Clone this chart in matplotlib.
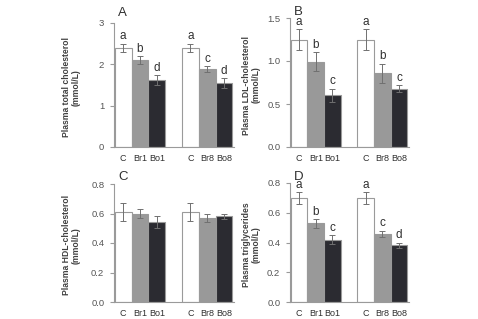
import numpy as np
import matplotlib.pyplot as plt

plt.rcParams['font.family'] = ['Liberation Sans', 'DejaVu Sans']

# Dados
labels_x = ['C', 'Br1', 'Bo1', 'C', 'Br8', 'Bo8']
pos = [0, 1, 2, 4, 5, 6]

total_mean = [2.40, 2.10, 1.62, 2.40, 1.88, 1.55]
total_err = [0.10, 0.10, 0.12, 0.10, 0.07, 0.12]
total_let = ['a', 'b', 'd', 'a', 'c', 'd']

ldl_mean = [1.25, 0.99, 0.60, 1.25, 0.86, 0.68]
ldl_err = [0.12, 0.11, 0.08, 0.12, 0.11, 0.04]
ldl_let = ['a', 'b', 'c', 'a', 'b', 'c']

hdl_mean = [0.61, 0.60, 0.54, 0.61, 0.57, 0.58]
hdl_err = [0.06, 0.03, 0.04, 0.06, 0.03, 0.02]
hdl_let = None

tg_mean = [0.70, 0.53, 0.42, 0.70, 0.46, 0.38]
tg_err = [0.04, 0.03, 0.03, 0.04, 0.02, 0.02]
tg_let = ['a', 'b', 'c', 'a', 'c', 'd']

cores = ['white', '#999999', '#2b2b31', 'white', '#999999', '#2b2b31']
cinza = '#9a9a9a'
texto = '#555555'

W, H = 478, 319
fig = plt.figure(figsize=(W / 100, H / 100), dpi=100)


def painel(rect, media, erro, letras, ylim, yticks, fmt, ylabel, letra, lx, ly):
    l, r, t, b = rect
    ax = fig.add_axes([l / W, (H - b) / H, (r - l) / W, (b - t) / H])
    ax.bar(pos, media, width=1.0, color=cores, edgecolor=cinza, linewidth=0.8, zorder=2)
    ax.errorbar(pos, media, yerr=erro, fmt='none', ecolor='#707070',
                elinewidth=0.7, capsize=2, capthick=0.7, zorder=3)
    if letras:
        rng = ylim[1] - ylim[0]
        for p, m, e, s in zip(pos, media, erro, letras):
            ax.text(p, m + e + 0.01 * rng, s, ha='center', va='bottom',
                    fontsize=8.5, color='#303030')
    ax.set_xlim(-0.55, 6.6)
    ax.set_ylim(*ylim)
    ax.set_yticks(yticks)
    ax.set_yticklabels([fmt.format(v) for v in yticks])
    ax.set_xticks(pos)
    ax.set_xticklabels(labels_x)
    for s in ['top', 'right']:
        ax.spines[s].set_visible(False)
    for s in ['left', 'bottom']:
        ax.spines[s].set_color(cinza)
        ax.spines[s].set_linewidth(0.8)
    ax.tick_params(axis='y', length=3, color=cinza, labelsize=6.8, labelcolor=texto, pad=4)
    ax.tick_params(axis='x', length=0, labelsize=6.5, labelcolor='#303030', pad=5)
    ax.set_ylabel(ylabel, fontsize=6.2, fontweight='bold', color='#404040',
                  linespacing=1.1)
    ax.yaxis.set_label_coords((lx - l) / (r - l), 0.48)
    fig.text(ly[0] / W, 1 - ly[1] / H, letra, fontsize=9.5, color='#303030',
             ha='center', va='center')
    return ax


painel((114, 234, 23, 147), total_mean, total_err, total_let, (0, 3), [0, 1, 2, 3],
       '{:.0f}', 'Plasma total cholesterol\n(mmol/L)', 'A', 81, (122, 13))
painel((290, 409, 18, 147), ldl_mean, ldl_err, ldl_let, (0, 1.5), [0, 0.5, 1.0, 1.5],
       '{:.1f}', 'Plasma LDL-cholesterol\n(mmol/L)', 'B', 261, (298, 12))
painel((114, 234, 184, 302), hdl_mean, hdl_err, hdl_let, (0, 0.8), [0, 0.2, 0.4, 0.6, 0.8],
       '{:.1f}', 'Plasma HDL-cholesterol\n(mmol/L)', 'C', 81, (123, 177))
painel((290, 409, 183, 302), tg_mean, tg_err, tg_let, (0, 0.8), [0, 0.2, 0.4, 0.6, 0.8],
       '{:.1f}', 'Plasma triglycerides\n(mmol/L)', 'D', 261, (299, 177))

plt.savefig('out.png', dpi=100)
plt.close()
